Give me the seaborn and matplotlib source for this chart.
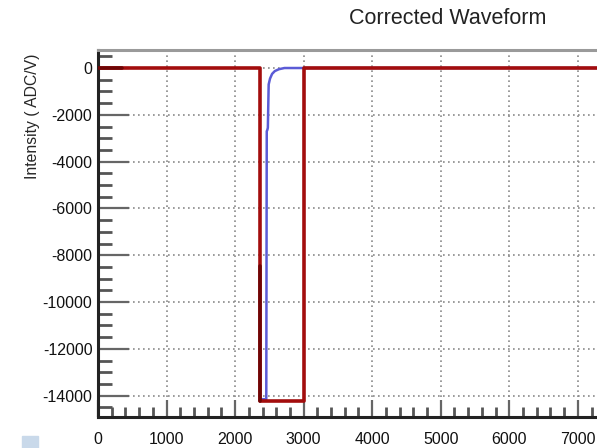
#!/usr/bin/env python3
"""Corrected waveform plot."""

import matplotlib

matplotlib.use("Agg")
import matplotlib.pyplot as plt
import pandas as pd
import seaborn as sns
from matplotlib.patches import Rectangle
from matplotlib.ticker import MultipleLocator

# corrected (step) waveform
fit_t = [0, 2362, 2362, 3003, 3003, 7300]
fit_v = [0, 0, -14230, -14230, 0, 0]

# measured waveform
meas_t = [2362, 2455, 2462, 2470, 2478, 2490, 2510, 2540, 2580, 2640, 2720, 3003, 7300]
meas_v = [-14150, -14150, -2700, -2650, -2550, -700, -450, -250, -130, -50, 0, 0, 0]

# dark baseline fragments visible under the red trace
base_t = [0, 350, None, 2362, 2362]
base_v = [0, 0, None, -8450, -14230]


def main() -> None:
    sns.set_theme(style="white")
    plt.rcParams["font.family"] = ["Liberation Sans", "DejaVu Sans"]
    plt.rcParams["axes.unicode_minus"] = False

    df = pd.concat(
        [
            pd.DataFrame({"t": meas_t, "v": meas_v, "trace": "measured"}),
            pd.DataFrame({"t": fit_t, "v": fit_v, "trace": "corrected"}),
        ],
        ignore_index=True,
    )

    fig = plt.figure(figsize=(5.97, 4.48), dpi=100)
    ax = fig.add_axes([98 / 597, 31 / 448, 1 - 98 / 597, 367 / 448])

    sns.lineplot(
        data=df,
        x="t",
        y="v",
        hue="trace",
        palette={"measured": "#5b5bd6", "corrected": "#a30d0d"},
        hue_order=["measured", "corrected"],
        sort=False,
        estimator=None,
        linewidth=2.6,
        legend=False,
        ax=ax,
    )
    ax.lines[0].set_linewidth(1.8)
    ax.plot(base_t, base_v, color="#6e0505", linewidth=2.6, zorder=3)

    ax.set_xlim(0, 7280)
    ax.set_ylim(-14910, 770)
    ax.xaxis.set_major_locator(MultipleLocator(1000))
    ax.xaxis.set_minor_locator(MultipleLocator(200))
    ax.yaxis.set_major_locator(MultipleLocator(2000))
    ax.yaxis.set_minor_locator(MultipleLocator(500))

    ax.grid(True, which="major", color="#8a8a8a", linestyle=(0, (1, 2)), linewidth=1.2)
    ax.tick_params(axis="both", which="major", direction="in",
                   labelsize=11.5, labelcolor="#111111", left=True, bottom=True)
    ax.tick_params(axis="y", which="major", length=22, width=1.6, color="#666666", pad=4)
    ax.tick_params(axis="x", which="major", length=12, width=1.6, color="#666666", pad=11)
    ax.tick_params(axis="y", which="minor", direction="in", length=10, width=2,
                   color="#555555", left=True)
    ax.tick_params(axis="x", which="minor", direction="in", length=7, width=2,
                   color="#555555", bottom=True)

    for side in ("left", "bottom"):
        ax.spines[side].set_color("#222222")
        ax.spines[side].set_linewidth(2.2)
    ax.spines["top"].set_color("#9a9a9a")
    ax.spines["top"].set_linewidth(2.2)
    ax.spines["right"].set_visible(False)

    ax.set_xlabel("")
    ax.set_ylabel("Intensity ( ADC/V)", fontsize=11.3)
    ax.yaxis.set_label_coords(-0.117, 0.82)

    fig.text(448 / 597, 1 - 18 / 448, "Corrected Waveform", fontsize=15.5,
             ha="center", va="center", color="#222222")
    fig.patches.append(Rectangle((22 / 597, 0), 16 / 597, 12 / 448,
                                 transform=fig.transFigure, color="#c9d9ea"))

    fig.savefig("out.png", dpi=100)
    plt.close(fig)


if __name__ == "__main__":
    main()
